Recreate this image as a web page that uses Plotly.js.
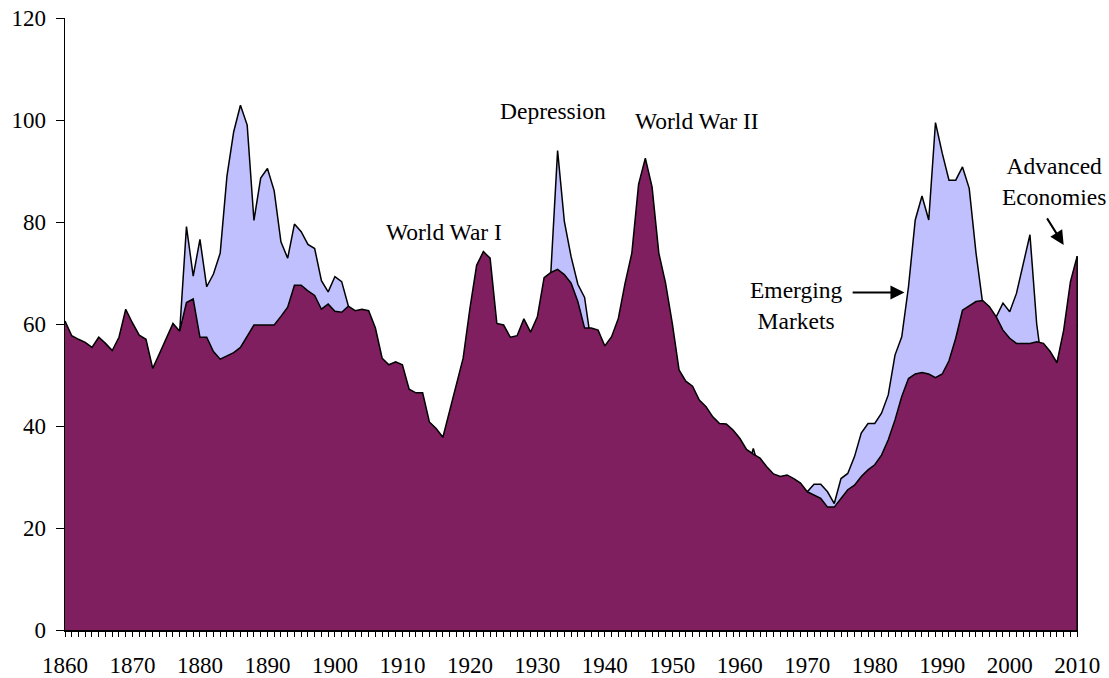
<!DOCTYPE html>
<html>
<head>
<meta charset="utf-8">
<script src="https://cdn.plot.ly/plotly-3.0.1.min.js"></script>
<style>
  html, body { margin: 0; padding: 0; background: #ffffff; }
  #chart { width: 1109px; height: 678px; }
</style>
</head>
<body>
<div id="chart"></div>
<script>
// ---- Data ----
const firstYear = 1860;

// Advanced economies, 1860..2010 (one value per year)
const advanced = [
  60.6, 57.7, 57.0, 56.4, 55.4, 57.4, 56.2, 54.8, 57.4, 62.9,   // 1860s
  60.2, 57.8, 57.0, 51.3, 54.2, 57.1, 60.1, 58.6, 64.2, 64.9,   // 1870s
  57.4, 57.4, 54.6, 53.1, 53.8, 54.4, 55.4, 57.6, 59.8, 59.8,   // 1880s
  59.8, 59.8, 61.5, 63.3, 67.6, 67.6, 66.5, 65.6, 62.9, 63.9,   // 1890s
  62.5, 62.3, 63.5, 62.6, 62.9, 62.6, 59.2, 53.3, 52.0, 52.6,   // 1900s
  52.0, 47.2, 46.5, 46.5, 40.8, 39.5, 37.8, 43.0, 48.2, 53.3,   // 1910s
  63.0, 71.5, 74.2, 72.9, 60.1, 59.8, 57.4, 57.7, 61.0, 58.4,   // 1920s
  61.4, 69.1, 70.1, 70.7, 69.7, 68.0, 64.4, 59.2, 59.2, 58.8,   // 1930s
  55.7, 57.5, 61.1, 68.0, 73.9, 87.4, 92.5, 86.9, 73.9, 68.0,   // 1940s
  60.1, 51.0, 48.8, 47.8, 45.1, 43.8, 41.8, 40.5, 40.4, 39.2,   // 1950s
  37.6, 35.4, 34.5, 33.7, 32.0, 30.6, 30.1, 30.4, 29.7, 28.8,   // 1960s
  27.1, 26.5, 25.8, 24.1, 24.1, 25.8, 27.5, 28.4, 30.1, 31.4,   // 1970s
  32.4, 34.3, 37.3, 41.2, 45.8, 49.3, 50.2, 50.5, 50.2, 49.5,   // 1980s
  50.2, 52.8, 57.2, 62.7, 63.5, 64.4, 64.6, 63.4, 61.4, 58.8,   // 1990s
  57.2, 56.2, 56.2, 56.2, 56.5, 56.2, 54.6, 52.4, 58.8, 68.3,   // 2000s
  73.3                                                          // 2010
];

// Emerging markets, 1860..2010 (drawn behind; mostly hidden where below advanced)
const emerging = [
  52.0, 51.0, 50.0, 50.0, 49.0, 50.0, 49.0, 48.0, 50.0, 53.0,   // 1860s
  52.0, 51.0, 50.0, 47.0, 49.0, 52.0, 55.0, 58.6, 79.1, 69.4,   // 1870s
  76.6, 67.3, 69.8, 73.9, 89.0, 97.7, 102.9, 99.0, 80.3, 88.6,  // 1880s
  90.5, 86.1, 76.1, 72.9, 79.6, 78.1, 75.6, 74.8, 68.5, 66.3,   // 1890s
  69.3, 68.3, 63.5, 60.0, 59.0, 58.0, 55.0, 50.0, 49.0, 49.0,   // 1900s
  48.0, 44.0, 43.0, 43.0, 38.0, 36.0, 35.0, 40.0, 45.0, 50.0,   // 1910s
  58.0, 66.0, 70.0, 69.0, 57.0, 56.0, 54.0, 55.0, 58.0, 55.0,   // 1920s
  58.0, 66.0, 70.1, 94.0, 80.1, 73.2, 67.8, 65.2, 56.0, 55.0,   // 1930s
  52.0, 54.0, 57.0, 64.0, 70.0, 83.0, 88.0, 83.0, 70.0, 64.0,   // 1940s
  56.0, 48.0, 46.0, 45.0, 42.0, 41.0, 39.0, 38.0, 38.0, 37.0,   // 1950s
  35.0, 31.0, 35.6, 31.0, 30.0, 29.0, 28.5, 28.5, 28.0, 27.5,   // 1960s
  27.1, 28.6, 28.6, 27.1, 24.8, 29.7, 30.7, 34.0, 38.6, 40.5,   // 1970s
  40.5, 42.5, 46.1, 53.9, 57.5, 67.3, 80.4, 85.1, 80.4, 99.5,   // 1980s
  93.5, 88.2, 88.2, 90.8, 86.6, 74.0, 64.0, 61.0, 61.4, 64.1,   // 1990s
  62.4, 66.0, 71.9, 77.5, 60.0, 50.0, 48.0, 46.0, 50.0, 55.0,   // 2000s
  60.0                                                          // 2010
];

const xTickVals = [1860, 1870, 1880, 1890, 1900, 1910, 1920, 1930, 1940, 1950, 1960, 1970, 1980, 1990, 2000, 2010];
const yTickVals = [0, 20, 40, 60, 80, 100, 120];
const labelTexts = {
  ww1: "World War I",
  depression: "Depression",
  ww2: "World War II",
  emerging: "Emerging<br>Markets",
  advanced: "Advanced<br>Economies"
};

// ---- Build ----
const years = advanced.map((_, i) => firstYear + i);
const lastYear = years[years.length - 1];
const lastAdv = advanced[advanced.length - 1];

const FONT = '"Liberation Serif", "Times New Roman", serif';
const PURPLE = '#7f1f5f';
const LIGHT = '#c0c0ff';

const traces = [
  {
    x: years, y: emerging, type: 'scatter', mode: 'lines',
    fill: 'tozeroy', fillcolor: LIGHT,
    line: { color: '#000000', width: 1.5 },
    hoverinfo: 'skip', showlegend: false
  },
  {
    x: years, y: advanced, type: 'scatter', mode: 'lines',
    fill: 'tozeroy', fillcolor: PURPLE,
    line: { color: '#000000', width: 1.5 },
    hoverinfo: 'skip', showlegend: false
  },
  {
    // closing right edge of the advanced area
    x: [lastYear, lastYear], y: [0, lastAdv], type: 'scatter', mode: 'lines',
    line: { color: '#000000', width: 1.5 },
    hoverinfo: 'skip', showlegend: false
  }
];

const annFont = { family: FONT, size: 23.5, color: '#000000' };

const layout = {
  width: 1109, height: 678,
  margin: { l: 65, r: 31, t: 18, b: 48, pad: 0 },
  paper_bgcolor: '#ffffff', plot_bgcolor: '#ffffff',
  font: { family: FONT, size: 23, color: '#000000' },
  showlegend: false,
  xaxis: {
    range: [1860, 2010.12],
    tickmode: 'array', tickvals: xTickVals, ticktext: xTickVals.map(String),
    ticks: 'outside', ticklen: 5, tickwidth: 1, tickcolor: '#000000',
    minor: { dtick: 1, tick0: 1860, ticks: 'outside', ticklen: 5, tickwidth: 1, tickcolor: '#000000', showgrid: false },
    showline: true, linecolor: '#000000', linewidth: 1.5,
    showgrid: false, zeroline: false,
    tickfont: { family: FONT, size: 23, color: '#000000' },
    ticklabelstandoff: 9,
    fixedrange: true
  },
  yaxis: {
    range: [0, 120],
    tickmode: 'array', tickvals: yTickVals, ticktext: yTickVals.map(String),
    ticks: 'outside', ticklen: 8, tickwidth: 1, tickcolor: '#000000',
    showline: true, linecolor: '#000000', linewidth: 1.5,
    showgrid: false, zeroline: false,
    tickfont: { family: FONT, size: 23, color: '#000000' },
    ticklabelstandoff: 5,
    fixedrange: true
  },
  annotations: [
    { x: 1916.1, y: 78.0, xref: 'x', yref: 'y', text: labelTexts.ww1, showarrow: false, font: annFont, xanchor: 'center', yanchor: 'middle' },
    { x: 1932.3, y: 101.8, xref: 'x', yref: 'y', text: labelTexts.depression, showarrow: false, font: annFont, xanchor: 'center', yanchor: 'middle' },
    { x: 1953.7, y: 99.8, xref: 'x', yref: 'y', text: labelTexts.ww2, showarrow: false, font: annFont, xanchor: 'center', yanchor: 'middle' },
    { x: 1968.3, y: 63.7, xref: 'x', yref: 'y', text: labelTexts.emerging, showarrow: false, font: annFont, xanchor: 'center', yanchor: 'middle' },
    { x: 2006.6, y: 88.0, xref: 'x', yref: 'y', text: labelTexts.advanced, showarrow: false, font: annFont, xanchor: 'center', yanchor: 'middle' },
    // arrows
    { x: 1984.4, y: 66.2, ax: 1976.5, ay: 66.2, xref: 'x', yref: 'y', axref: 'x', ayref: 'y',
      text: '', showarrow: true, arrowhead: 2, arrowsize: 1.4, arrowwidth: 2, arrowcolor: '#000000', standoff: 0, startstandoff: 0 },
    { x: 2008.0, y: 75.5, ax: 2005.4, ay: 81.0, xref: 'x', yref: 'y', axref: 'x', ayref: 'y',
      text: '', showarrow: true, arrowhead: 2, arrowsize: 1.4, arrowwidth: 2, arrowcolor: '#000000', standoff: 0, startstandoff: 0 }
  ]
};

Plotly.newPlot('chart', traces, layout, { staticPlot: true, displayModeBar: false });
</script>
</body>
</html>
